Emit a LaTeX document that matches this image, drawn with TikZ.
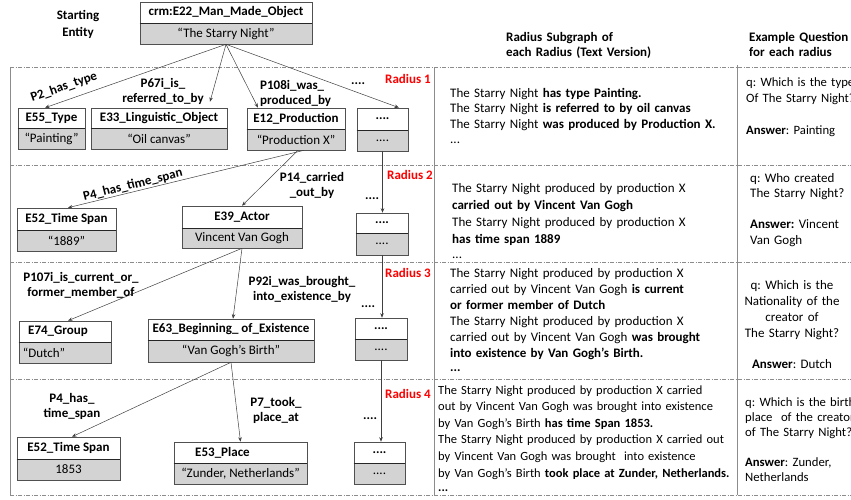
\documentclass[tikz,border=0pt]{standalone}
\usepackage{fontspec}
\setmainfont{Carlito}
\usetikzlibrary{arrows.meta}
\definecolor{boxgray}{HTML}{D3D3D3}
\definecolor{edgegray}{HTML}{505050}
\definecolor{rulegray}{HTML}{8C8C8C}
\newcommand\bodyfont{\fontsize{13pt}{15.5pt}\selectfont}
\newcommand\skipfont[1]{\fontsize{13pt}{#1}\selectfont}
\newcommand\ebox[8]{%
  \pgfmathsetmacro\ebw{#4-#2}%
  \pgfmathsetmacro\ebh{#5-#3}%
  \pgfmathsetmacro\ebv{#6-#5}%
  \node[tbox, minimum width=\ebw pt, minimum height=\ebh pt] (#1) at ({(#2+#4)/2},{(#3+#5)/2}) {#7};
  \node[vbox, minimum width=\ebw pt, minimum height=\ebv pt] (#1v) at ({(#2+#4)/2},{(#5+#6)/2}) {#8};
  \draw[divider] (#1.south west) -- (#1.south east);
}
\frenchspacing
\begin{document}
\frenchspacing
\begin{tikzpicture}[x=1pt,y=-1pt,
  tbox/.style={draw=edgegray, fill=white, line width=0.6pt, inner sep=0pt, font=\bodyfont\bfseries},
  vbox/.style={draw=edgegray, fill=boxgray, line width=0.6pt, inner sep=0pt, font=\bodyfont},
  divider/.style={line width=1.3pt, draw=black!85},
  conn/.style={draw=black!75, line width=0.5pt, -{Stealth[length=4.5pt,width=3.5pt]}},
  plbl/.style={font=\bodyfont\bfseries, inner sep=0pt, text width=#1, align=center, anchor=base},
  plbl/.default=120pt,
  llbl/.style={font=\bodyfont\bfseries, inner sep=0pt, text width=#1, align=left, anchor=base west},
  llbl/.default=200pt,
  rlbl/.style={font=\bodyfont\bfseries, text=red, inner sep=0pt, anchor=base west},
  dots/.style={font=\bodyfont\bfseries, inner sep=0pt, anchor=base west},
  sent/.style={inner sep=0pt, anchor=base west, align=left, text width=345pt},
  ques/.style={inner sep=0pt, anchor=base west, align=left, text width=150pt},
  hrule/.style={draw=rulegray, line width=0.6pt, dash pattern=on 4pt off 1.5pt on 1pt off 1.5pt},
  vrule/.style={draw=rulegray, line width=0.7pt}]
\useasboundingbox (0,0) rectangle (851,499);
\clip (0,0) rectangle (851,499);

% table rules
\draw[hrule] (10,67) -- (851,67);
\draw[hrule] (10,165) -- (851,165);
\draw[hrule] (10,262) -- (851,262);
\draw[hrule] (10,379) -- (851,379);
\draw[hrule] (10,495) -- (851,495);
\draw[vrule] (10,67) -- (10,495);
\draw[vrule] (434,67) -- (434,495);
\draw[vrule] (737,65) -- (737,495);

% headers
\node[plbl=80pt, font=\skipfont{17pt}\bfseries] (hstart) at (78,19) {Starting\\Entity};
\node[llbl=220pt] (hsub) at (506,41) {Radius Subgraph of\\each Radius (Text Version)};
\node[llbl=110pt] (hq) at (749,41) {Example Question\\for each radius};

% boxes
\ebox{top}{140}{2}{312}{23}{44}{crm:E22\_Man\_Made\_Object}{“The Starry Night”}
\ebox{e55}{18}{108}{85}{128}{149}{E55\_Type}{“Painting”}
\ebox{e33}{91}{108}{227}{128}{149}{E33\_Linguistic\_Object}{“Oil canvas”}
\ebox{e12}{247}{108}{345}{129}{150}{E12\_Production}{“Production X”}
\ebox{d1}{357}{108}{408}{130}{151}{....}{....}
\ebox{e52a}{17}{208}{116}{230}{251}{E52\_Time Span}{“1889”}
\ebox{e39}{182}{206}{302}{228}{248}{E39\_Actor}{Vincent Van Gogh}
\ebox{d2}{356}{213}{408}{233}{255}{....}{....}
\ebox{e74}{19}{321}{111}{342}{363}{\hspace*{-14pt}E74\_Group}{\hspace*{-42pt}“Dutch”}
\ebox{e63}{148}{319}{314}{340}{362}{E63\_Beginning\_ of\_Existence}{“Van Gogh’s Birth”}
\ebox{d3}{355}{318}{407}{339}{360}{....}{....}
\ebox{e52b}{17}{437}{120}{459}{480}{E52\_Time Span}{1853}
\ebox{e53}{174}{442}{307}{463}{484}{\hspace*{-36pt}E53\_Place}{“Zunder, Netherlands”}
\ebox{d4}{354}{442}{405}{463}{484}{....}{....}

% connectors
\draw[conn] (topv.south) -- ([xshift=-6.5pt]e55.north);
\draw[conn] (topv.south) -- ([xshift=51pt,yshift=6pt]e33.north);
\draw[conn] (topv.south) -- ([xshift=-38pt]e12.north);
\draw[conn] (topv.south) -- ([xshift=16.5pt]d1.north);
\draw[conn] ([xshift=8pt]e12v.south) -- ([xshift=1.5pt]e52a.north);
\draw[conn] ([xshift=2pt]e12v.south) -- (e39.north);
\draw[conn] (d1v.south) -- (d1v.south |- d2.north);
\draw[conn] (e39v.south) -- ([xshift=3pt]e74.north);
\draw[conn] (e39v.south) -- ([xshift=2pt]e63.north);
\draw[conn] (d2v.south) -- (d2v.south |- d3.north);
\draw[conn] (e63v.south) -- ([xshift=3.5pt]e52b.north);
\draw[conn] (e63v.south) -- (e53.north);
\draw[conn] (d3v.south) -- (d3v.south |- d4.north);

% edge labels
\node[font=\bodyfont\bfseries, inner sep=0pt, rotate=19] (lp2) at (64,87) {P2\_has\_type};
\node[plbl=110pt] (lp67) at (163,87) {P67i\_is\_\\referred\_to\_by};
\node[llbl=100pt] (lp108) at (260,89) {P108i\_was\_\\produced\_by};
\node[dots] (dl1) at (351,84) {....};
\node[rlbl] (r1) at (385,83) {Radius 1};
\node[font=\bodyfont\bfseries, inner sep=0pt, rotate=14] (lp4a) at (133,185) {P4\_has\_time\_span};
\node[plbl=100pt] (lp14) at (312,181) {P14\_carried\\\_out\_by};
\node[dots] (dl2) at (365,199) {....};
\node[rlbl] (r2) at (387,179) {Radius 2};
\node[plbl=150pt] (lp107) at (81,281) {P107i\_is\_current\_or\_\\former\_member\_of};
\node[plbl=150pt] (lp92) at (302,285) {P92i\_was\_brought\_\\into\_existence\_by};
\node[dots] (dl3) at (361,307) {....};
\node[rlbl] (r3) at (385,277) {Radius 3};
\node[plbl=90pt] (lp4b) at (72,402) {P4\_has\_\\time\_span};
\node[plbl=90pt] (lp7) at (276,406) {P7\_took\_\\place\_at};
\node[dots] (dl4) at (363,419) {....};
\node[rlbl] (r4) at (385,398) {Radius 4};

% sentences
\node[sent, font=\skipfont{15.5pt}] (s1) at (450,97) {The Starry Night \textbf{has type Painting.}\\
The Starry Night \textbf{is referred to by oil canvas}\\
The Starry Night \textbf{was produced by Production X.}\\
...};
\node[sent, font=\skipfont{17.3pt}] (s2) at (452,192) {The Starry Night produced by production X\\
\textbf{carried out by Vincent Van Gogh}\\
The Starry Night produced by production X\\
\textbf{has time span 1889}\\[-2.5pt]
...};
\node[sent, font=\skipfont{16pt}] (s3) at (450,277) {The Starry Night produced by production X\\
carried out by Vincent Van Gogh \textbf{is current}\\
\textbf{or former member of Dutch}\\
The Starry Night produced by production X\\
carried out by Vincent Van Gogh \textbf{was brought}\\
\textbf{into existence by Van Gogh’s Birth.}\\[-2pt]
\textbf{...}};
\node[sent, font=\fontsize{12.5pt}{16.6pt}\selectfont] (s4) at (438,394) {The Starry Night produced by production X carried\\
out by Vincent Van Gogh was brought into existence\\
by Van Gogh’s Birth \textbf{has time Span 1853.}\\
The Starry Night produced by production X carried out\\
by Vincent Van Gogh was brought\ \ into existence\\
by Van Gogh’s Birth \textbf{took place at Zunder, Netherlands.}\\[-2pt]
\textbf{...}};

% questions
\node[ques, font=\fontsize{12.7pt}{16pt}\selectfont] (q1) at (746,86) {q: Which is the type\\
Of The Starry Night?\\[16pt]
\textbf{Answer}: Painting};
\node[ques, font=\skipfont{15.6pt}] (q2) at (750,182) {q: Who created\\
The Starry Night?\\[15.6pt]
\textbf{Answer:} Vincent\\
Van Gogh};
\node[inner sep=0pt, anchor=base, align=center, text width=120pt, font=\skipfont{16pt}] (q3) at (792,289) {q: Which is the\\
Nationality of the\\
creator of\\
The Starry Night?\\[15pt]
\textbf{Answer}: Dutch};
\node[ques, font=\fontsize{12.7pt}{15.2pt}\selectfont] (q4) at (745,406) {q: Which is the birth\\
place\ \ of the creator\\
of The Starry Night?\\[15pt]
\textbf{Answer}: Zunder,\\
Netherlands};
\end{tikzpicture}
\end{document}
